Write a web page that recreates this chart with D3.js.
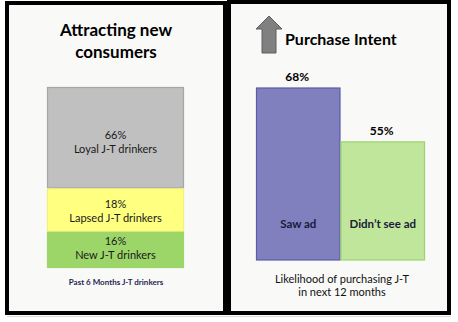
<!DOCTYPE html>
<html><head><meta charset="utf-8">
<script src="https://cdn.jsdelivr.net/npm/d3@7"></script>
<style>body{margin:0;background:#fff;}svg{display:block;font-family:Lato,"Open Sans",sans-serif;}</style>
</head><body>
<script>
// Left panel: stacked bar (top to bottom)
const segLabels = ["66%", "18%", "16%"];
const segNames = ["Loyal J-T drinkers", "Lapsed J-T drinkers", "New J-T drinkers"];
const segShares = [56, 24, 20]; // displayed heights
const segColors = ["#c0c0c0", "#ffff80", "#9cd568"];
const segStrokes = ["#a6a6a6", "#f2f27a", "#9cd568"];

// Right panel: purchase intent bars
const groups = ["Saw ad", "Didn\u2019t see ad"];
const intent = [68, 55];
const barColors = ["#8080bf", "#bfe69b"];
const barStrokes = ["#5c5ca8", "#9bd46e"];

const W = 458, H = 322;
const svg = d3.select("body").append("svg").attr("width", W).attr("height", H);

// panels
svg.append("rect").attr("x", 7).attr("y", 3).attr("width", 218).attr("height", 310)
  .attr("fill", "#f9f9f7").attr("stroke", "#000").attr("stroke-width", 4);
svg.append("rect").attr("x", 229).attr("y", 2).attr("width", 220).attr("height", 311)
  .attr("fill", "#f9f9f7").attr("stroke", "#000").attr("stroke-width", 4);
svg.append("line").attr("x1", 7).attr("x2", 451).attr("y1", 316.5).attr("y2", 316.5)
  .attr("stroke", "#d8d8d8").attr("stroke-width", 1);

// ---- Left panel ----
const L = svg.append("g");
L.append("text").attr("x", 116).attr("y", 36).attr("text-anchor", "middle")
  .attr("font-size", 17).attr("font-weight", "bold").attr("fill", "#000").text("Attracting new");
L.append("text").attr("x", 116).attr("y", 58).attr("text-anchor", "middle")
  .attr("font-size", 17).attr("font-weight", "bold").attr("fill", "#000").text("consumers");

const ys = d3.scaleLinear().domain([0, d3.sum(segShares)]).range([87, 268]);
const xs = d3.scaleBand().domain(["Past 6 Months J-T drinkers"]).range([47, 184]).padding(0);
let cum = 0;
const segs = segShares.map((v, i) => { const s = {i, y0: cum, y1: cum + v}; cum += v; return s; });
const bx = xs("Past 6 Months J-T drinkers"), bw = xs.bandwidth();
L.selectAll("rect.seg").data(segs).enter().append("rect").attr("class", "seg")
  .attr("x", bx + 0.5).attr("width", bw - 1)
  .attr("y", d => ys(d.y0) + 0.5).attr("height", d => ys(d.y1) - ys(d.y0) - 1)
  .attr("fill", d => segColors[d.i]).attr("stroke", d => segStrokes[d.i]).attr("stroke-width", 1.2);
const labelShift = [1, -2.5, -5];
segs.forEach(d => {
  const cy = (ys(d.y0) + ys(d.y1)) / 2 + labelShift[d.i];
  const cx = bx + bw / 2;
  const g = L.append("text").attr("text-anchor", "middle").attr("font-size", 11).attr("fill", "#1a1a1a");
  g.append("tspan").attr("x", cx).attr("y", cy).text(segLabels[d.i]);
  g.append("tspan").attr("x", cx).attr("y", cy + 14.5).text(segNames[d.i]);
});
L.append("text").attr("x", 116).attr("y", 285).attr("text-anchor", "middle")
  .attr("font-size", 8).attr("font-weight", "bold").attr("fill", "#1f2650").text("Past 6 Months J-T drinkers");

// ---- Right panel ----
const R = svg.append("g");
// arrow
R.append("path").attr("d", "M269,16 L282,29 L276,29 L276,53 L262,53 L262,29 L256,29 Z")
  .attr("fill", "#808080").attr("stroke", "#5f5f5f").attr("stroke-width", 1);
R.append("text").attr("x", 285).attr("y", 45).attr("font-size", 16).attr("font-weight", "bold")
  .attr("fill", "#000").text("Purchase Intent");

const x2 = d3.scaleBand().domain(groups).range([256, 425]).padding(0);
const y2 = d3.scaleLinear().domain([26.5, 68]).range([260, 88]);
R.selectAll("rect.bar").data(groups).enter().append("rect").attr("class", "bar")
  .attr("x", d => x2(d) + 0.5).attr("width", x2.bandwidth() - 1)
  .attr("y", (d, i) => y2(intent[i])).attr("height", (d, i) => y2.range()[0] - y2(intent[i]))
  .attr("fill", (d, i) => barColors[i]).attr("stroke", (d, i) => barStrokes[i]).attr("stroke-width", 1.2);
R.selectAll("text.val").data(groups).enter().append("text").attr("class", "val")
  .attr("x", d => x2(d) + x2.bandwidth() / 2 - 1).attr("y", (d, i) => y2(intent[i]) - 7)
  .attr("text-anchor", "middle").attr("font-size", 12).attr("font-weight", "bold").attr("fill", "#000")
  .text((d, i) => intent[i] + "%");
R.selectAll("text.grp").data(groups).enter().append("text").attr("class", "grp")
  .attr("x", d => x2(d) + x2.bandwidth() / 2).attr("y", 228)
  .attr("text-anchor", "middle").attr("font-size", 11.5).attr("font-weight", "bold").attr("fill", "#1a1a3a")
  .text(d => d);
const t = R.append("text").attr("text-anchor", "middle").attr("font-size", 11).attr("fill", "#111");
t.append("tspan").attr("x", 342).attr("y", 283).text("Likelihood of purchasing J-T");
t.append("tspan").attr("x", 342).attr("y", 296).text("in next 12 months");
</script>
</body></html>
